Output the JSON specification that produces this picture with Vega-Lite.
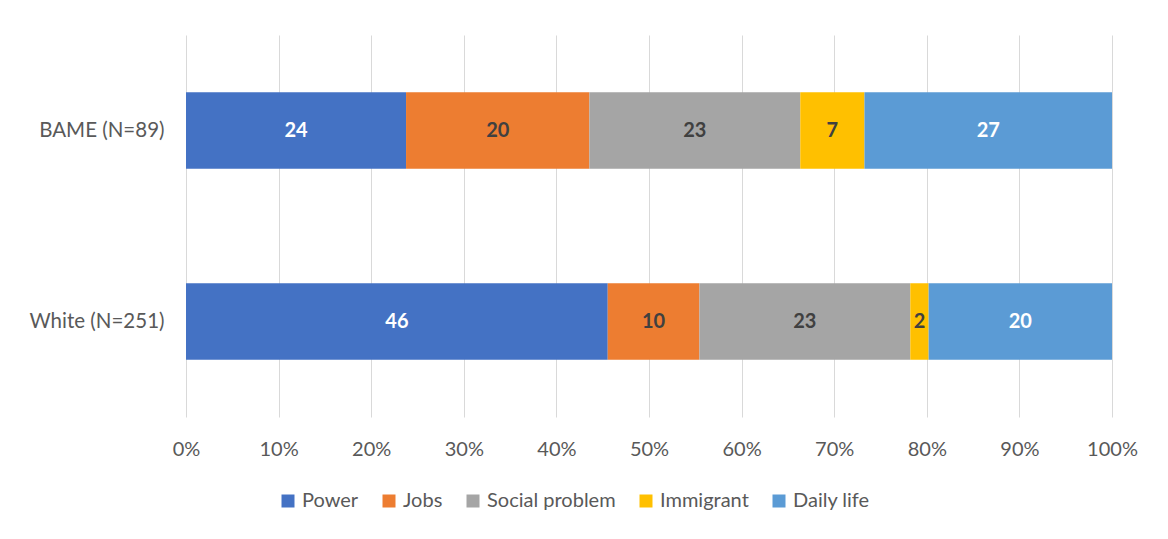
{
  "$schema": "https://vega.github.io/schema/vega-lite/v6.json",
  "width": 926,
  "height": 382,
  "autosize": "none",
  "padding": {"left": 186, "top": 35, "right": 56, "bottom": 122},
  "background": "white",
  "config": {
    "view": {"stroke": null},
    "font": "Lato"
  },
  "data": {
    "values": [
      {"group": "BAME (N=89)", "category": "Power", "order": 1, "value": 24},
      {"group": "BAME (N=89)", "category": "Jobs", "order": 2, "value": 20},
      {"group": "BAME (N=89)", "category": "Social problem", "order": 3, "value": 23},
      {"group": "BAME (N=89)", "category": "Immigrant", "order": 4, "value": 7},
      {"group": "BAME (N=89)", "category": "Daily life", "order": 5, "value": 27},
      {"group": "White (N=251)", "category": "Power", "order": 1, "value": 46},
      {"group": "White (N=251)", "category": "Jobs", "order": 2, "value": 10},
      {"group": "White (N=251)", "category": "Social problem", "order": 3, "value": 23},
      {"group": "White (N=251)", "category": "Immigrant", "order": 4, "value": 2},
      {"group": "White (N=251)", "category": "Daily life", "order": 5, "value": 20}
    ]
  },
  "transform": [
    {"stack": "value", "groupby": ["group"], "sort": [{"field": "order", "order": "ascending"}], "offset": "normalize", "as": ["x0", "x1"]},
    {"calculate": "(datum.x0 + datum.x1) / 2", "as": "xmid"}
  ],
  "encoding": {
    "y": {
      "field": "group",
      "type": "nominal",
      "sort": ["BAME (N=89)", "White (N=251)"],
      "scale": {"paddingInner": 0.6, "paddingOuter": 0.3},
      "axis": {
        "title": null,
        "domain": false,
        "ticks": false,
        "labelPadding": 22,
        "labelFontSize": 20.5,
        "labelColor": "#595959",
        "labelFont": "Lato"
      }
    }
  },
  "layer": [
    {
      "mark": {"type": "bar"},
      "encoding": {
        "x": {
          "field": "x0",
          "type": "quantitative",
          "scale": {"domain": [0, 1]},
          "axis": {
            "title": null,
            "format": ".0%",
            "values": [0, 0.1, 0.2, 0.3, 0.4, 0.5, 0.6, 0.7, 0.8, 0.9, 1],
            "grid": true,
            "gridColor": "#d9d9d9",
            "gridWidth": 1,
            "domain": false,
            "ticks": false,
            "labelFlush": false,
            "labelOverlap": false,
            "labelPadding": 22,
            "labelFontSize": 20,
            "labelColor": "#595959",
            "labelFont": "Lato"
          }
        },
        "x2": {"field": "x1"},
        "color": {
          "field": "category",
          "type": "nominal",
          "scale": {
            "domain": ["Power", "Jobs", "Social problem", "Immigrant", "Daily life"],
            "range": ["#4472C4", "#ED7D31", "#A5A5A5", "#FFC000", "#5B9BD5"]
          },
          "legend": {
            "title": null,
            "orient": "none",
            "direction": "horizontal",
            "legendX": 92,
            "legendY": 456,
            "symbolType": "square",
            "symbolSize": 169,
            "symbolStrokeWidth": 0,
            "labelFontSize": 20,
            "labelColor": "#595959",
            "labelFont": "Lato",
            "labelOffset": 4,
            "columnPadding": 20
          }
        }
      }
    },
    {
      "mark": {"type": "text", "fontWeight": "bold", "fontSize": 20, "baseline": "middle", "align": "center", "font": "Lato"},
      "encoding": {
        "x": {"field": "xmid", "type": "quantitative"},
        "text": {"field": "value", "type": "quantitative"},
        "color": {
          "condition": {"test": "datum.category === 'Power' || datum.category === 'Daily life'", "value": "#ffffff"},
          "value": "#404040"
        }
      }
    }
  ]
}
